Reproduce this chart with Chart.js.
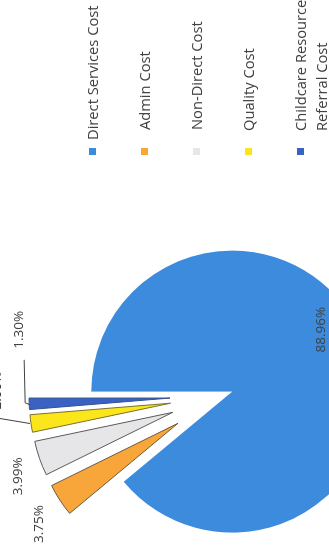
<!DOCTYPE html>
<html>
<head>
<meta charset="utf-8">
<script src="https://cdn.jsdelivr.net/npm/chart.js@4.4.1/dist/chart.umd.min.js"></script>
<style>
  html, body { margin: 0; padding: 0; background: #fff; overflow: hidden; width: 329px; height: 550px; }
  /* the scanned chart is turned a quarter turn: draw it upright, then rotate the whole page */
  #page { position: absolute; left: 0; top: 0; width: 550px; height: 329px; transform-origin: 0 0; transform: translateY(550px) rotate(-90deg); }
  #pie { position: absolute; left: 0; top: 0; }
  #legende { position: absolute; left: 0; top: 0; width: 550px; height: 329px; font: 14.7px "Open Sans", sans-serif; color: #404040; }
  .item { position: absolute; line-height: 21px; white-space: pre; }
  .carre { position: absolute; width: 7px; height: 7px; }
</style>
</head>
<body>
<div id="page">
  <canvas id="pie" width="550" height="329"></canvas>
  <div id="legende"></div>
</div>
<script>
// --- donnees ---
const categories = ['Direct Services Cost', 'Admin Cost', 'Non-Direct Cost', 'Quality Cost', 'Childcare Resource & Referral Cost'];
const pourcentages = [88.96, 3.75, 3.99, 2.00, 1.30];
const couleurs = ['#3d8bdd', '#f8a63a', '#e6e6e9', '#fbe61c', '#3a62c2'];

// --- style ---
const RAYON = 141;
const explosion = [13, 50, 50, 50, 50];           // deplacement de chaque part (px)
const decalEtiquette = [[14, -44], [-24, -21], [-18, -21], [33, -34], [74, -10]];
const traits = [null, null, null, [[0, -1], [5, -31]], [[-1, 1], [1, -4], [44, -5]]];
const legendeX = [410, 420, 420, 419, 419];

// legende HTML (texte reel)
const legende = document.getElementById('legende');
categories.forEach((nom, i) => {
    const cy = 92 + i * 52;
    const carre = document.createElement('div');
    carre.className = 'carre';
    carre.style.left = '395px';
    carre.style.top = (cy - 3.5) + 'px';
    carre.style.background = couleurs[i];
    legende.appendChild(carre);
    const txt = document.createElement('div');
    txt.className = 'item';
    txt.style.left = legendeX[i] + 'px';
    txt.style.top = (cy - 10.5) + 'px';
    txt.textContent = nom.replace(' Referral', '\nReferral');
    legende.appendChild(txt);
});

// eclate les parts : deplace le centre de chaque arc le long de sa bissectrice
const eclate = {
    id: 'eclate',
    afterUpdate(chart) {
        chart.getDatasetMeta(0).data.forEach((arc, i) => {
            const mid = (arc.startAngle + arc.endAngle) / 2;
            arc.x += Math.cos(mid) * explosion[i];
            arc.y += Math.sin(mid) * explosion[i];
            arc.outerRadius = RAYON;
        });
    }
};

// etiquettes de pourcentage + traits de rappel
const etiquettes = {
    id: 'etiquettes',
    afterDatasetsDraw(chart) {
        const ctx = chart.ctx;
        const total = pourcentages.reduce((a, b) => a + b, 0);
        ctx.save();
        ctx.font = '13.5px "Open Sans", sans-serif';
        ctx.fillStyle = '#404040';
        ctx.strokeStyle = '#404040';
        ctx.lineWidth = 1;
        ctx.textAlign = 'center';
        ctx.textBaseline = 'middle';
        chart.getDatasetMeta(0).data.forEach((arc, i) => {
            const mid = (arc.startAngle + arc.endAngle) / 2;
            const tx = arc.x + Math.cos(mid) * RAYON;
            const ty = arc.y + Math.sin(mid) * RAYON;
            if (traits[i]) {
                ctx.beginPath();
                traits[i].forEach((p, k) => {
                    if (k === 0) ctx.moveTo(tx + p[0], ty + p[1]);
                    else ctx.lineTo(tx + p[0], ty + p[1]);
                });
                ctx.stroke();
            }
            const pct = (pourcentages[i] / total * 100).toFixed(2) + '%';
            ctx.fillText(pct, tx + decalEtiquette[i][0], ty + decalEtiquette[i][1]);
        });
        ctx.restore();
    }
};

new Chart(document.getElementById('pie').getContext('2d'), {
    type: 'pie',
    data: {
        labels: categories,
        datasets: [{
            data: pourcentages,
            backgroundColor: couleurs,
            borderColor: ['#3d8bdd', '#6b5a40', '#5a5a5a', '#7a7030', '#34508f'],
            borderWidth: [0, 1, 1, 1, 1],
            offset: 0
        }]
    },
    options: {
        responsive: false,
        animation: false,
        events: [],
        rotation: 0,
        radius: RAYON,
        layout: { padding: { left: 0, right: 242, top: 111, bottom: 0 } },
        plugins: { legend: { display: false }, tooltip: { enabled: false } }
    },
    plugins: [eclate, etiquettes]
});
</script>
</body>
</html>
